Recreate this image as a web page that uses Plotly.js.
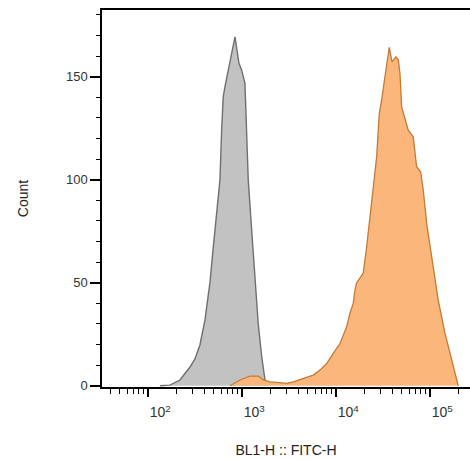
<!DOCTYPE html>
<html>
<head>
<meta charset="utf-8">
<script src="https://cdn.plot.ly/plotly-3.0.1.min.js"></script>
<style>html,body{margin:0;padding:0;background:#fff;}#chart{width:470px;height:459px;}</style>
</head>
<body>
<div id="chart"></div>
<script>
// Unstained / control histogram (grey)
const grayX = [134, 171, 219, 280, 316, 357, 404, 457, 495, 538, 583, 608, 632, 659, 745, 843, 929, 993, 1076, 1122, 1167, 1268, 1374, 1489, 1622, 1758, 1892];
const grayCount = [0, 0.3, 2.8, 9.1, 13, 19.8, 31.9, 50.3, 67.3, 83.8, 99.8, 124.1, 140.3, 145.1, 156.5, 169.4, 156.5, 153.2, 146.8, 124.1, 99.8, 75.6, 51.3, 30.2, 14.1, 2.8, 0];

// Stained histogram (orange)
const orangeX = [745, 953, 1216, 1489, 1687, 1986, 2535, 2992, 3516, 4487, 5741, 6761, 7962, 9354, 11041, 13002, 14093, 15276, 15922, 16596, 17989, 19498, 21232, 23014, 24946, 27102, 28907, 30620, 33189, 36898, 39446, 43451, 46026, 47973, 50003, 54200, 58749, 66374, 72111, 79616, 84918, 92257, 104232, 122462, 144544, 170216, 199986];
const orangeCount = [0, 2.8, 4.7, 4.7, 2.8, 1.9, 1.5, 1.2, 1.9, 3.6, 5.2, 7.6, 10.8, 15.7, 20.5, 28.6, 35.3, 40.0, 46.5, 49.9, 52.3, 54.7, 67.5, 82.0, 94.9, 111.1, 132.2, 138.7, 150.0, 164.3, 157.2, 159.7, 158.2, 151.6, 135.4, 129.0, 124.1, 120.9, 106.3, 103.9, 94.9, 78.7, 62.5, 41.6, 25.4, 12.5, 0];

// Axis ticks
const xMajorVals = [100, 1000, 10000, 100000];
const xMajorText = ['10<sup>2</sup>', '10<sup>3</sup>', '10<sup>4</sup>', '10<sup>5</sup>'];
const xMinorVals = [40, 50, 60, 70, 80, 90, 200, 300, 400, 500, 600, 700, 800, 900, 2000, 3000, 4000, 5000, 6000, 7000, 8000, 9000, 20000, 30000, 40000, 50000, 60000, 70000, 80000, 90000, 200000];
const yMajorVals = [0, 50, 100, 150];

const axisColor = '#000';
const fam = 'Liberation Sans, Arial, sans-serif';

const traces = [
  {
    x: grayX, y: grayCount, type: 'scatter', mode: 'lines',
    fill: 'tozeroy', fillcolor: '#c2c2c2',
    line: {color: '#6f6f6f', width: 1.4},
    hoverinfo: 'x+y', showlegend: false
  },
  {
    x: orangeX, y: orangeCount, type: 'scatter', mode: 'lines',
    fill: 'tozeroy', fillcolor: '#fbb67b',
    line: {color: '#c57a35', width: 1.3},
    hoverinfo: 'x+y', showlegend: false
  }
];

const layout = {
  width: 470, height: 459,
  margin: {l: 102, r: 0, t: 10, b: 72, pad: 0},
  paper_bgcolor: '#fff', plot_bgcolor: '#fff',
  font: {family: fam, size: 13, color: '#333'},
  showlegend: false,
  xaxis: {
    type: 'log',
    range: [1.511, 5.426],
    showgrid: false, zeroline: false,
    showline: true, linecolor: axisColor, linewidth: 1.6,
    mirror: true,
    tickmode: 'array', tickvals: xMajorVals, ticktext: xMajorText,
    ticks: 'outside', ticklen: 8, tickwidth: 2, tickcolor: axisColor,
    ticklabelposition: 'outside right',
    ticklabelstandoff: 12,
    tickfont: {family: fam, size: 14, color: '#333'},
    minor: {tickmode: 'array', tickvals: xMinorVals, ticks: 'outside', ticklen: 5, tickwidth: 1, tickcolor: axisColor, showgrid: false},
    title: {text: 'BL1-H :: FITC-H', font: {family: fam, size: 14, color: '#222'}, standoff: 26}
  },
  yaxis: {
    range: [-0.6, 182.4],
    showgrid: false, zeroline: false,
    showline: true, linecolor: axisColor, linewidth: 1.6,
    tickmode: 'array', tickvals: yMajorVals,
    ticks: 'outside', ticklen: 10, tickwidth: 2, tickcolor: axisColor,
    tickfont: {family: fam, size: 13, color: '#333'},
    minor: {dtick: 10, ticks: 'outside', ticklen: 4, tickwidth: 1, tickcolor: axisColor, showgrid: false},
    title: {text: 'Count', font: {family: fam, size: 14, color: '#222'}, standoff: 34}
  }
};

Plotly.newPlot('chart', traces, layout, {displayModeBar: false, staticPlot: true});
</script>
</body>
</html>
